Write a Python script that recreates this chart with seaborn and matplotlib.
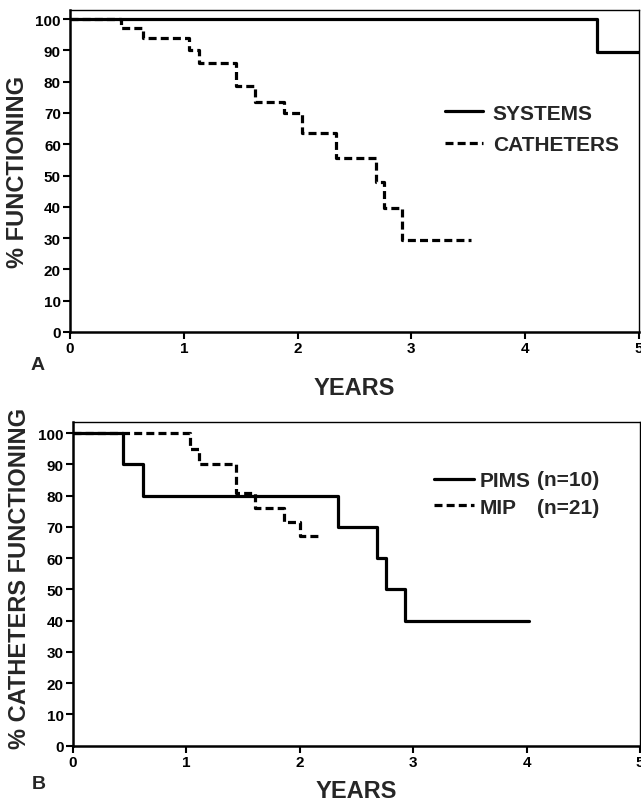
import matplotlib
matplotlib.use("Agg")
import matplotlib.pyplot as plt
import seaborn as sns
import pandas as pd

# ---------------- data ----------------
year_ticks = [0, 1, 2, 3, 4, 5]
pct_ticks = [0, 10, 20, 30, 40, 50, 60, 70, 80, 90, 100]

# Panel A
systems_years = [0.0, 4.63, 5.0]
systems_pct = [100, 89.5, 89.5]
catheters_years = [0.0, 0.45, 0.64, 1.05, 1.13, 1.46, 1.63, 1.88, 2.04, 2.34, 2.69, 2.76, 2.92, 3.52]
catheters_pct = [100, 97, 94, 90, 86, 78.5, 73.5, 70, 63.5, 55.5, 48, 39.5, 29.5, 29.5]
labels_a = ["SYSTEMS", "CATHETERS"]

# Panel B
pims_years = [0.0, 0.44, 0.62, 2.34, 2.68, 2.76, 2.93, 4.02]
pims_pct = [100, 90, 80, 70, 60, 50, 40, 40]
mip_years = [0.0, 1.03, 1.11, 1.44, 1.61, 1.86, 2.00, 2.18]
mip_pct = [100, 95, 90, 81, 76, 71.5, 67, 67]
labels_b = ["PIMS", "MIP"]
counts_b = ["(n=10)", "(n=21)"]

# ---------------- style ----------------
sns.set_style("ticks")
plt.rcParams["font.family"] = ["Liberation Sans", "DejaVu Sans"]
plt.rcParams["font.weight"] = "bold"
plt.rcParams["axes.labelweight"] = "bold"

W, H = 641, 804
fig = plt.figure(figsize=(W / 100, H / 100), dpi=100)


def fx(px):
    return px / W


def fy(py):
    return 1 - py / H


ax_a = fig.add_axes([fx(70), fy(333), fx(639 - 70), (333 - 10.7) / H])
ax_b = fig.add_axes([fx(72.7), fy(746.7), fx(640 - 72.7), (746.7 - 423.3) / H])

LW = 2.3
DASH = (0, (2.5, 1.3))


def draw(ax, years, pct, ls):
    df = pd.DataFrame({"years": years, "pct": pct})
    sns.lineplot(data=df, x="years", y="pct", ax=ax, color="black", lw=LW,
                 estimator=None, sort=False, drawstyle="steps-post",
                 linestyle=ls, legend=False)


draw(ax_a, systems_years, systems_pct, "-")
draw(ax_a, catheters_years, catheters_pct, DASH)
draw(ax_b, pims_years, pims_pct, "-")
draw(ax_b, mip_years, mip_pct, DASH)

for ax, ytop in ((ax_a, 103.0), (ax_b, 103.5)):
    ax.set_xlim(0, 5)
    ax.set_ylim(0, ytop)
    ax.set_xticks(year_ticks)
    ax.set_yticks(pct_ticks)
    ax.tick_params(direction="out", length=5, width=1.5, pad=1.5, labelsize=11,
                   colors="black")
    for s in ("left", "bottom"):
        ax.spines[s].set_linewidth(1.8)
    for s in ("top", "right"):
        ax.spines[s].set_visible(True)
        ax.spines[s].set_linewidth(1.0)
    for s in ax.spines.values():
        s.set_color("black")
    for t in ax.get_xticklabels() + ax.get_yticklabels():
        t.set_fontweight("bold")

ax_a.set_xlabel("YEARS", fontsize=17, fontweight="bold")
ax_a.set_ylabel("% FUNCTIONING", fontsize=17, fontweight="bold")
ax_b.set_xlabel("YEARS", fontsize=17, fontweight="bold")
ax_b.set_ylabel("% CATHETERS FUNCTIONING", fontsize=17, fontweight="bold")

ax_a.xaxis.set_label_coords(0.5, (333 - 377) / 322.3)
ax_b.xaxis.set_label_coords(0.5, (746.7 - 780) / 323.4)
ax_a.yaxis.set_label_coords((29 - 70) / 569, 0.5)
ax_b.yaxis.set_label_coords((31 - 72.7) / 567.3, 0.52)

# legends
fs_leg = 15
leg_a = ax_a.legend(ax_a.get_lines()[:2], labels_a, loc="center left",
                    bbox_to_anchor=(fx(445), fy(130)), bbox_transform=fig.transFigure,
                    frameon=False, handlelength=1.8,
                    handletextpad=0.5, labelspacing=0.62, borderpad=0,
                    borderaxespad=0, prop={"weight": "bold", "size": fs_leg})

leg_b = ax_b.legend(ax_b.get_lines()[:2], labels_b, loc="center left",
                    bbox_to_anchor=(fx(434), fy(495)), bbox_transform=fig.transFigure,
                    frameon=False, handlelength=1.9,
                    handletextpad=0.3, labelspacing=0.36, borderpad=0,
                    borderaxespad=0, prop={"weight": "bold", "size": fs_leg})
for txt, ypx in zip(counts_b, (481, 509)):
    fig.text(fx(537), fy(ypx), txt, fontsize=fs_leg, fontweight="bold",
             ha="left", va="center")

fig.text(fx(37.5), fy(366), "A", fontsize=14, fontweight="bold", ha="center", va="center")
fig.text(fx(39), fy(785), "B", fontsize=14, fontweight="bold", ha="center", va="center")

fig.savefig("out.png", dpi=100)
